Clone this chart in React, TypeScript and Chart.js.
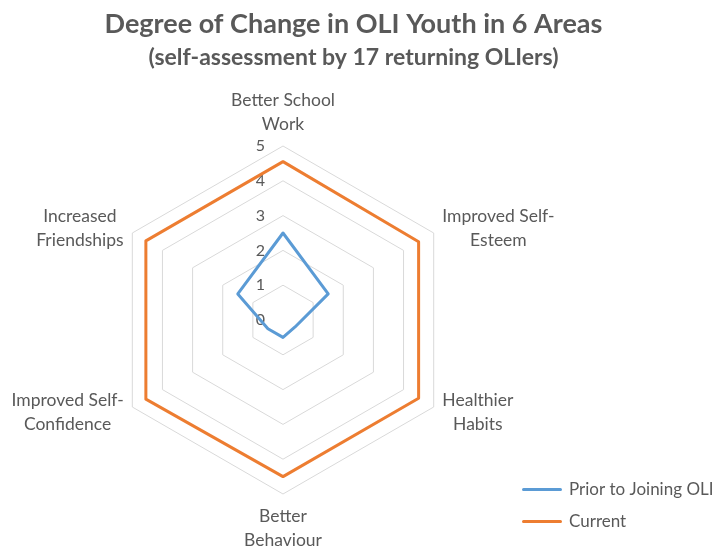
import React, { useEffect, useRef } from "react";
import { Chart, registerables } from "chart.js";

Chart.register(...registerables);

const categories: string[][] = [
  ["Better School", "Work"],
  ["Improved Self-", "Esteem"],
  ["Healthier", "Habits"],
  ["Better", "Behaviour"],
  ["Improved Self-", "Confidence"],
  ["Increased", "Friendships"],
];
const priorValues = [2.5, 1.5, 0.4, 0.5, 0.5, 1.5];
const currentValues = [4.55, 4.5, 4.5, 4.5, 4.55, 4.55];
const seriesNames = ["Prior to Joining OLI", "Current"];
const titleText = "Degree of Change in OLI Youth in 6 Areas";
const subtitleText = "(self-assessment by 17 returning OLIers)";

const TEXT = "#595959";
const BLUE = "#5b9bd5";
const ORANGE = "#ed7d31";
const GRID = "#d9d9d9";
const FONT = "Lato, 'Open Sans', sans-serif";
const LABEL_LINE = 24;

const excelLabels = {
  id: "excelLabels",
  afterLayout(chart: any) {
    const lg = chart.legend;
    if (lg) {
      lg.left = 508.5;
      lg.right = 715;
      lg.top = 466;
      lg.bottom = 546;
    }
  },
  beforeDatasetsDraw(chart: any) {
    const scale = chart.scales.r;
    const ctx = chart.ctx;
    ctx.save();
    ctx.fillStyle = TEXT;
    ctx.font = `16px ${FONT}`;
    ctx.textAlign = "right";
    ctx.textBaseline = "middle";
    scale.ticks.forEach((t: any) => {
      const d = scale.getDistanceFromCenterForValue(t.value);
      ctx.fillText(String(t.value), scale.xCenter - 18, scale.yCenter - d);
    });
    ctx.restore();
  },
  afterDraw(chart: any) {
    const scale = chart.scales.r;
    const ctx = chart.ctx;
    ctx.save();
    ctx.fillStyle = TEXT;
    ctx.font = `17.5px ${FONT}`;
    ctx.textBaseline = "middle";
    ctx.textAlign = "center";
    categories.forEach((lines, i) => {
      const p = scale.getPointPosition(i, scale.drawingArea + 10);
      const deg = Math.round((scale.getIndexAngle(i) * 180) / Math.PI) % 360;
      const w = Math.max(...lines.map((l) => ctx.measureText(l).width));
      const h = lines.length * LABEL_LINE;
      let cx = p.x;
      let top = p.y - h / 2;
      if (deg === 0) top = p.y - h;
      else if (deg === 180) top = p.y;
      else if (deg < 180) cx = p.x + w / 2;
      else cx = p.x - w / 2;
      lines.forEach((ln, j) => ctx.fillText(ln, cx, top + LABEL_LINE * (j + 0.5)));
    });
    ctx.restore();
  },
};

export default function App() {
  const ref = useRef<HTMLCanvasElement>(null);
  useEffect(() => {
    document.body.style.margin = "0";
    const chart = new Chart(ref.current!, {
      type: "radar",
      data: {
        labels: categories,
        datasets: [
          {
            label: seriesNames[0],
            data: priorValues,
            borderColor: BLUE,
            backgroundColor: BLUE,
            borderWidth: 3,
            fill: false,
            pointRadius: 0,
            borderJoinStyle: "round",
          },
          {
            label: seriesNames[1],
            data: currentValues,
            borderColor: ORANGE,
            backgroundColor: ORANGE,
            borderWidth: 3,
            fill: false,
            pointRadius: 0,
            borderJoinStyle: "round",
          },
        ],
      },
      options: {
        responsive: false,
        animation: false,
        layout: { padding: { left: 0, right: 8, top: 0, bottom: 51 } },
        scales: {
          r: {
            min: 0,
            max: 5,
            ticks: { display: false, stepSize: 1 },
            grid: { color: GRID, lineWidth: 1 },
            angleLines: { display: false },
            pointLabels: { display: false },
          },
        },
        plugins: {
          title: {
            display: true,
            text: titleText,
            color: TEXT,
            font: { family: FONT, size: 27, weight: "bold" },
            padding: { top: 8, bottom: 0 },
          },
          subtitle: {
            display: true,
            text: subtitleText,
            color: TEXT,
            font: { family: FONT, size: 23, weight: "bold" },
            padding: { top: 3, bottom: 75 },
          },
          legend: {
            position: "right",
            align: "start",
            maxWidth: 140,
            labels: {
              color: TEXT,
              font: { family: FONT, size: 17 },
              boxWidth: 37,
              boxHeight: 0,
              padding: 15,
            },
          },
          tooltip: { enabled: false },
        },
      },
      plugins: [excelLabels],
    });
    return () => chart.destroy();
  }, []);
  return (
    <div style={{ width: 715, height: 546 }}>
      <canvas ref={ref} width={715} height={546} style={{ display: "block" }} />
    </div>
  );
}
